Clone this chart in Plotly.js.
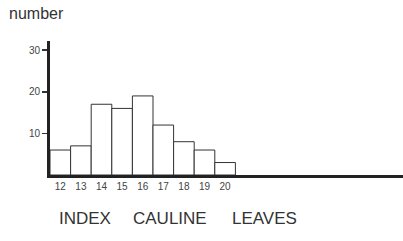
<!DOCTYPE html>
<html>
<head>
<meta charset="utf-8">
<script src="https://cdn.plot.ly/plotly-3.0.1.min.js"></script>
<style>html,body{margin:0;padding:0;background:#fff;}#chart{width:403px;height:241px;}</style>
</head>
<body>
<div id="chart"></div>
<script>
const categories = ["12","13","14","15","16","17","18","19","20"];
const counts = [6, 7, 17, 16, 19, 12, 8, 6, 3];
const yTickVals = [10, 20, 30];
const yTickText = ["10", "20", "30"];
const titleWords = ["INDEX", "CAULINE", "LEAVES"];

const xPos = categories.map((c, i) => i);

const trace = {
  type: "bar",
  x: xPos,
  y: counts,
  width: 1,
  marker: { color: "#ffffff", line: { color: "#333333", width: 1 } },
  hoverinfo: "none"
};

const wordX = [57, 131, 230];
const annotations = titleWords.map((w, i) => ({
  text: w, xref: "paper", yref: "paper",
  x: (wordX[i] - 50) / 353, y: (175 - 218) / 134,
  xanchor: "left", yanchor: "middle", showarrow: false,
  font: { family: "Liberation Sans, Arial, sans-serif", size: 17, color: "#333" }
}));
annotations.push({
  text: "number", xref: "paper", yref: "paper",
  x: (7 - 50) / 353, y: (175 - 13) / 134,
  xanchor: "left", yanchor: "middle", showarrow: false,
  font: { family: "Liberation Sans, Arial, sans-serif", size: 16, color: "#333" }
});

const layout = {
  width: 403, height: 241,
  margin: { l: 50, r: 0, t: 41, b: 66 },
  paper_bgcolor: "#fff", plot_bgcolor: "#fff",
  showlegend: false,
  bargap: 0,
  font: { family: "Liberation Sans, Arial, sans-serif", color: "#444" },
  xaxis: {
    range: [-0.5, -0.5 + 353 / 20.6],
    tickvals: xPos, ticktext: categories,
    showline: true, linewidth: 3, linecolor: "#222",
    showgrid: false, zeroline: false, ticks: "",
    tickfont: { size: 10, color: "#444" },
    fixedrange: true
  },
  yaxis: {
    range: [0, 32.2],
    tickvals: yTickVals, ticktext: yTickText,
    showline: true, linewidth: 3, linecolor: "#222",
    showgrid: false, zeroline: false,
    ticks: "outside", ticklen: 5, tickwidth: 1.5, tickcolor: "#333",
    tickfont: { size: 10, color: "#444" },
    fixedrange: true
  },
  annotations: annotations
};

Plotly.newPlot("chart", [trace], layout, { staticPlot: true, displayModeBar: false });
</script>
</body>
</html>
